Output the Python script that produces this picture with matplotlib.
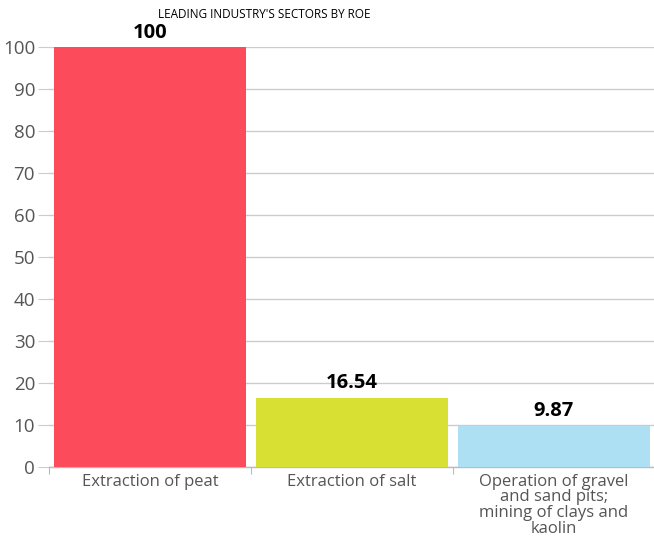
import matplotlib
matplotlib.use("Agg")
import matplotlib.pyplot as plt

categories = ["Extraction of peat", "Extraction of salt",
              "Operation of gravel\nand sand pits;\nmining of clays and\nkaolin"]
values = [100, 16.54, 9.87]
value_labels = ["100", "16.54", "9.87"]
colors = ["#FC4C5C", "#D8E033", "#AEE0F3"]
yticks = [0, 10, 20, 30, 40, 50, 60, 70, 80, 90, 100]

plt.rcParams['font.family'] = ['Open Sans', 'DejaVu Sans']

fig = plt.figure(figsize=(6.54, 5.45), dpi=100)
ax = fig.add_axes([49/654, 1 - 467/545, 606/654, 420/545])

x = range(len(categories))
ax.bar(x, values, width=0.952, color=colors, zorder=3)
ax.set_xlim(-0.5, len(categories) - 0.5)
ax.set_ylim(0, 100)
ax.set_yticks(yticks)
ax.set_yticklabels([str(t) for t in yticks], fontsize=13.5, color="#555555")
ax.yaxis.grid(True, color="#CCCCCC", linewidth=1, zorder=0)
ax.tick_params(axis='y', length=8, color="#CCCCCC", pad=2)

ax.set_xticks([i + 0.5 for i in range(-1, len(categories))], minor=False)
ax.set_xticklabels([])
ax.tick_params(axis='x', length=5, color="#BBBBBB")
for i, c in enumerate(categories):
    ax.text(i, -1.6, c, ha='center', va='top', fontsize=12, color="#555555",
            linespacing=0.98)

for i, (v, lab) in enumerate(zip(values, value_labels)):
    ax.text(i, v + 1.0, lab, ha='center', va='bottom', fontsize=14.5,
            fontweight='bold', color="black")

for s in ['top', 'right', 'left']:
    ax.spines[s].set_visible(False)
ax.spines['bottom'].set_color("#BBBBBB")
ax.spines['bottom'].set_linewidth(1)

fig.text(264/654, 1 - 15/545, "LEADING INDUSTRY'S SECTORS BY ROE", ha='center',
         va='center', fontsize=8.5, color="black")

fig.savefig("out.png", dpi=100)
